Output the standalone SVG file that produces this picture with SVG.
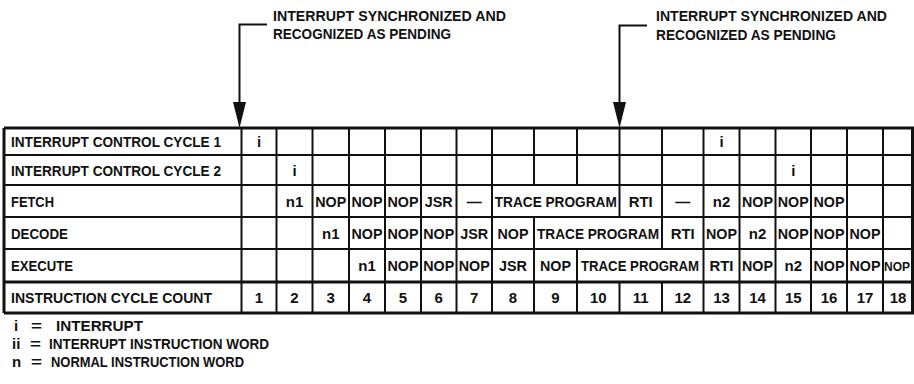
<svg xmlns="http://www.w3.org/2000/svg" width="914" height="384" viewBox="0 0 914 384">
<style>
text{font-family:"Liberation Sans",Arial,sans-serif;font-size:15px;font-weight:bold;fill:#111}
.c{text-anchor:middle}
.g{stroke:#111;stroke-width:2;fill:none}
.b{stroke:#111;stroke-width:3;fill:none}
</style>
<rect width="914" height="384" fill="#fff"/>

<g id="connectors">
<path class="g" d="M267,24.5 H239.5 V103" />
<polygon points="233,102 246,102 239.5,128" fill="#111"/>
<path class="g" d="M647,25.5 H619.5 V103" />
<polygon points="613,102 626,102 619.5,128" fill="#111"/>
</g>

<g id="note1">
<text x="273" y="20.5" textLength="233" lengthAdjust="spacingAndGlyphs">INTERRUPT SYNCHRONIZED AND</text>
<text x="273" y="39" textLength="178" lengthAdjust="spacingAndGlyphs">RECOGNIZED AS PENDING</text>
</g>
<g id="note2">
<text x="656" y="20.5" textLength="231" lengthAdjust="spacingAndGlyphs">INTERRUPT SYNCHRONIZED AND</text>
<text x="656" y="39.5" textLength="180" lengthAdjust="spacingAndGlyphs">RECOGNIZED AS PENDING</text>
</g>

<g id="table-grid">
<path class="g" d="M4,155 H914 M4,185 H914 M4,217 H914 M4,249 H914"/>
<path class="b" d="M4,128 H914 M4,282 H914 M4,313 H914 M4,128 V313 M912.5,128 V313"/>
<path class="g" d="M241.5,128 V313 M276.5,128 V313 M312.5,128 V313 M349,128 V313 M385,128 V313 M421,128 V313 M456.5,128 V313 M492,128 V313 M703.5,128 V313 M739.5,128 V313 M775.5,128 V313 M811,128 V313 M847,128 V313 M883,128 V313"/>
<path class="g" d="M534,128 V185 M534,217 V313 M577,128 V185 M577,249 V313 M619.5,128 V217 M619.5,282 V313 M662,128 V249 M662,282 V313"/>
</g>

<g id="row-icc1">
<text x="11" y="146.5" textLength="210" lengthAdjust="spacingAndGlyphs">INTERRUPT CONTROL CYCLE 1</text>
<text class="c" x="259" y="146.5">i</text>
<text class="c" x="721.5" y="146.5">i</text>
</g>
<g id="row-icc2">
<text x="11" y="175.5" textLength="210" lengthAdjust="spacingAndGlyphs">INTERRUPT CONTROL CYCLE 2</text>
<text class="c" x="294.5" y="175.5">i</text>
<text class="c" x="793.25" y="175.5">i</text>
</g>
<g id="row-fetch">
<text x="11" y="206.5" textLength="43" lengthAdjust="spacingAndGlyphs">FETCH</text>
<text class="c" x="294.5" y="206.5">n1</text>
<text class="c" x="330.75" y="206.5" textLength="31" lengthAdjust="spacingAndGlyphs">NOP</text>
<text class="c" x="367" y="206.5" textLength="31" lengthAdjust="spacingAndGlyphs">NOP</text>
<text class="c" x="403" y="206.5" textLength="31" lengthAdjust="spacingAndGlyphs">NOP</text>
<text class="c" x="438.75" y="206.5" textLength="28" lengthAdjust="spacingAndGlyphs">JSR</text>
<text class="c" x="474.25" y="206.5">—</text>
<text class="c" x="555.75" y="206.5" textLength="122" lengthAdjust="spacingAndGlyphs">TRACE PROGRAM</text>
<text class="c" x="640.75" y="206.5" textLength="24" lengthAdjust="spacingAndGlyphs">RTI</text>
<text class="c" x="682.75" y="206.5">—</text>
<text class="c" x="721.5" y="206.5">n2</text>
<text class="c" x="757.5" y="206.5" textLength="31" lengthAdjust="spacingAndGlyphs">NOP</text>
<text class="c" x="793.25" y="206.5" textLength="31" lengthAdjust="spacingAndGlyphs">NOP</text>
<text class="c" x="829" y="206.5" textLength="31" lengthAdjust="spacingAndGlyphs">NOP</text>
</g>
<g id="row-decode">
<text x="11" y="238.5" textLength="57" lengthAdjust="spacingAndGlyphs">DECODE</text>
<text class="c" x="330.75" y="238.5">n1</text>
<text class="c" x="367" y="238.5" textLength="31" lengthAdjust="spacingAndGlyphs">NOP</text>
<text class="c" x="403" y="238.5" textLength="31" lengthAdjust="spacingAndGlyphs">NOP</text>
<text class="c" x="438.75" y="238.5" textLength="31" lengthAdjust="spacingAndGlyphs">NOP</text>
<text class="c" x="474.25" y="238.5" textLength="28" lengthAdjust="spacingAndGlyphs">JSR</text>
<text class="c" x="513" y="238.5" textLength="31" lengthAdjust="spacingAndGlyphs">NOP</text>
<text class="c" x="598" y="238.5" textLength="122" lengthAdjust="spacingAndGlyphs">TRACE PROGRAM</text>
<text class="c" x="682.75" y="238.5" textLength="24" lengthAdjust="spacingAndGlyphs">RTI</text>
<text class="c" x="721.5" y="238.5" textLength="31" lengthAdjust="spacingAndGlyphs">NOP</text>
<text class="c" x="757.5" y="238.5">n2</text>
<text class="c" x="793.25" y="238.5" textLength="31" lengthAdjust="spacingAndGlyphs">NOP</text>
<text class="c" x="829" y="238.5" textLength="31" lengthAdjust="spacingAndGlyphs">NOP</text>
<text class="c" x="865" y="238.5" textLength="31" lengthAdjust="spacingAndGlyphs">NOP</text>
</g>
<g id="row-execute">
<text x="11" y="271" textLength="62" lengthAdjust="spacingAndGlyphs">EXECUTE</text>
<text class="c" x="367" y="271">n1</text>
<text class="c" x="403" y="271" textLength="31" lengthAdjust="spacingAndGlyphs">NOP</text>
<text class="c" x="438.75" y="271" textLength="31" lengthAdjust="spacingAndGlyphs">NOP</text>
<text class="c" x="474.25" y="271" textLength="31" lengthAdjust="spacingAndGlyphs">NOP</text>
<text class="c" x="513" y="271" textLength="28" lengthAdjust="spacingAndGlyphs">JSR</text>
<text class="c" x="555.5" y="271" textLength="31" lengthAdjust="spacingAndGlyphs">NOP</text>
<text class="c" x="640" y="271" style="font-size:14px" textLength="118" lengthAdjust="spacingAndGlyphs">TRACE PROGRAM</text>
<text class="c" x="721.5" y="271" textLength="24" lengthAdjust="spacingAndGlyphs">RTI</text>
<text class="c" x="757.5" y="271" textLength="31" lengthAdjust="spacingAndGlyphs">NOP</text>
<text class="c" x="793.25" y="271">n2</text>
<text class="c" x="829" y="271" textLength="31" lengthAdjust="spacingAndGlyphs">NOP</text>
<text class="c" x="865" y="271" textLength="31" lengthAdjust="spacingAndGlyphs">NOP</text>
<text class="c" x="897" y="271" style="font-size:13px" textLength="26" lengthAdjust="spacingAndGlyphs">NOP</text>
</g>
<g id="row-count">
<text x="11" y="303" textLength="201" lengthAdjust="spacingAndGlyphs">INSTRUCTION CYCLE COUNT</text>
<text class="c" x="259" y="303">1</text>
<text class="c" x="294.5" y="303">2</text>
<text class="c" x="330.75" y="303">3</text>
<text class="c" x="367" y="303">4</text>
<text class="c" x="403" y="303">5</text>
<text class="c" x="438.75" y="303">6</text>
<text class="c" x="474.25" y="303">7</text>
<text class="c" x="513" y="303">8</text>
<text class="c" x="555.5" y="303">9</text>
<text class="c" x="598.25" y="303">10</text>
<text class="c" x="640.75" y="303">11</text>
<text class="c" x="682.75" y="303">12</text>
<text class="c" x="721.5" y="303">13</text>
<text class="c" x="757.5" y="303">14</text>
<text class="c" x="793.25" y="303">15</text>
<text class="c" x="829" y="303">16</text>
<text class="c" x="865" y="303">17</text>
<text class="c" x="898" y="303">18</text>
</g>

<g id="legend">
<text y="330.5"><tspan x="14">i</tspan><tspan x="31" textLength="11" lengthAdjust="spacingAndGlyphs">=</tspan><tspan x="56" textLength="87" lengthAdjust="spacingAndGlyphs">INTERRUPT</tspan></text>
<text y="348.5"><tspan x="12">ii</tspan><tspan x="30" textLength="11" lengthAdjust="spacingAndGlyphs">=</tspan><tspan x="49" textLength="220" lengthAdjust="spacingAndGlyphs">INTERRUPT INSTRUCTION WORD</tspan></text>
<text y="366.5"><tspan x="12">n</tspan><tspan x="31" textLength="11" lengthAdjust="spacingAndGlyphs">=</tspan><tspan x="51" textLength="193" lengthAdjust="spacingAndGlyphs">NORMAL INSTRUCTION WORD</tspan></text>
</g>
</svg>
